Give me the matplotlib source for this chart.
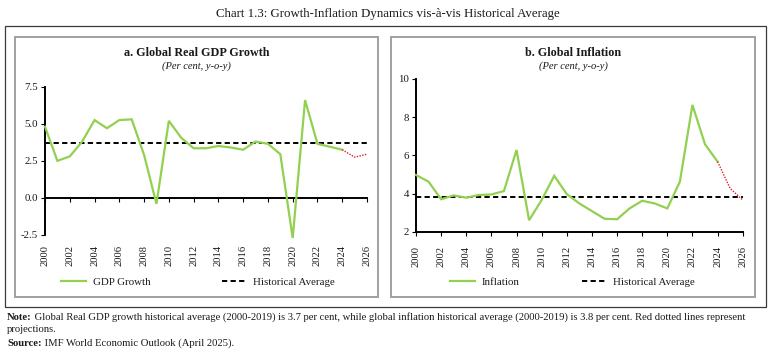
import matplotlib
matplotlib.use('Agg')
import matplotlib.pyplot as plt
from matplotlib.lines import Line2D
from matplotlib.patches import Rectangle

# ---------------- data ----------------
years = list(range(2000, 2027))
gdp_growth = [4.8, 2.5, 2.8, 3.8, 5.25, 4.7, 5.25, 5.3, 2.9, -0.4, 5.2, 4.05,
              3.35, 3.35, 3.5, 3.4, 3.25, 3.8, 3.65, 2.95, -2.7, 6.6, 3.65,
              3.45, 3.25, 2.75, 2.95]
inflation = [4.97, 4.62, 3.7, 3.9, 3.78, 3.92, 3.95, 4.13, 6.28, 2.6, 3.66,
             4.93, 3.97, 3.48, 3.08, 2.68, 2.65, 3.22, 3.62, 3.48, 3.22, 4.62,
             8.64, 6.58, 5.67, 4.27, 3.66]
gdp_avg = 3.7
infl_avg = 3.8
last_actual_year = 2024
year_ticks = list(range(2000, 2027, 2))
gdp_yticks = [-2.5, 0.0, 2.5, 5.0, 7.5]
infl_yticks = [2, 4, 6, 8, 10]

main_title = "Chart 1.3: Growth-Inflation Dynamics vis-à-vis Historical Average"
left_title = "a. Global Real GDP Growth"
right_title = "b. Global Inflation"
subtitle = "(Per cent, y-o-y)"
note_bold = "Note:"
note_rest = (" Global Real GDP growth historical average (2000-2019) is 3.7 per cent, "
             "while global inflation historical average (2000-2019) is 3.8 per cent. "
             "Red dotted lines represent")
note_line2 = "projections."
source_bold = "Source:"
source_rest = " IMF World Economic Outlook (April 2025)."

# ---------------- style ----------------
plt.rcParams['font.family'] = ['Liberation Serif', 'DejaVu Serif']
GREEN = '#92d050'
RED = '#e0202a'
TXT = '#1a1a1a'
W, H = 771, 354

fig = plt.figure(figsize=(W / 100, H / 100), dpi=100)


def fx(px):
    return px / W


def fy(py):
    return 1 - py / H


# frames
fig.add_artist(Rectangle((fx(5), fy(307)), fx(761), 281 / H, transform=fig.transFigure,
                         fill=False, edgecolor='#3a3a3a', lw=0.9))
for x0, x1 in [(15, 378), (391, 755)]:
    fig.add_artist(Rectangle((fx(x0), fy(297)), fx(x1 - x0), 260 / H, transform=fig.transFigure,
                             fill=False, edgecolor='#a0a0a0', lw=1.4))

fig.text(fx(388), fy(14), main_title, ha='center', va='center', fontsize=9.3, color=TXT)

idx = years.index(last_actual_year)
dash_style = (0, (2.7, 1.7))


def split_plot(ax, vals, avg):
    ax.axhline(avg, color='black', lw=1.4, linestyle=dash_style, zorder=2)
    ax.plot(years[:idx + 1], vals[:idx + 1], color=GREEN, lw=1.6, zorder=3,
            solid_joinstyle='miter', clip_on=False)
    ax.plot(years[idx:], vals[idx:], color=RED, lw=1.0, linestyle=(0, (1, 1)), zorder=3,
            clip_on=False)
    ax.set_xlim(years[0], years[-1])


def style_common(ax):
    for s in ['top', 'right']:
        ax.spines[s].set_visible(False)
    ax.spines['left'].set_linewidth(1.4)
    ax.spines['left'].set_color('black')
    ax.tick_params(axis='y', direction='out', length=3, width=0.8, labelsize=7.8,
                   colors=TXT, pad=2)
    ax.tick_params(axis='y', color='black')


# ---------------- left panel ----------------
axL = fig.add_axes([fx(45), fy(235), fx(367 - 45), (235 - 86.7) / H])
split_plot(axL, gdp_growth, gdp_avg)
axL.set_ylim(-2.5, 7.5)
axL.set_yticks(gdp_yticks)
axL.set_yticklabels([f"{v:.1f}" for v in gdp_yticks])
style_common(axL)
axL.spines['bottom'].set_visible(False)
axL.set_xticks(year_ticks)
axL.set_xticklabels([str(y) for y in year_ticks], rotation=90)
axL.tick_params(axis='x', length=0, labelsize=7.6, colors=TXT, pad=7)
zero_loc = (0 - (-2.5)) / (7.5 - (-2.5))
sec = axL.secondary_xaxis(zero_loc)
sec.set_xticks(year_ticks)
sec.xaxis.set_ticks_position('bottom')
sec.spines['bottom'].set_visible(True)
sec.spines['top'].set_visible(False)
sec.spines['bottom'].set_linewidth(1.4)
sec.tick_params(axis='x', direction='out', length=3, width=0.8, labelbottom=False,
                labeltop=False, color='black')

# ---------------- right panel ----------------
axR = fig.add_axes([fx(416), fy(231.7), fx(742.7 - 416), (231.7 - 79) / H])
split_plot(axR, inflation, infl_avg)
axR.set_ylim(2, 10)
axR.set_yticks(infl_yticks)
style_common(axR)
axR.spines['bottom'].set_linewidth(1.4)
axR.spines['bottom'].set_color('black')
axR.set_xticks(year_ticks)
axR.set_xticklabels([str(y) for y in year_ticks], rotation=90)
axR.tick_params(axis='x', direction='out', length=3, width=0.8, labelsize=7.6,
                colors=TXT, pad=7)
axR.tick_params(axis='x', color='black')

# panel titles
for cx, t in [(196.5, left_title), (573, right_title)]:
    fig.text(fx(cx), fy(52.7), t, ha='center', va='center', fontsize=8.7,
             fontweight='bold', color=TXT)
    fig.text(fx(cx), fy(66), subtitle, ha='center', va='center', fontsize=7.6,
             style='italic', color=TXT)

# legends
def make_legend(label, cx, colsp):
    handles = [Line2D([], [], color=GREEN, lw=1.6),
               Line2D([], [], color='black', lw=1.4, linestyle=dash_style)]
    fig.legend(handles, [label, 'Historical Average'], loc='center',
               bbox_to_anchor=(fx(cx), fy(282)), ncol=2, frameon=False,
               fontsize=7.8, handlelength=2.3, handletextpad=0.6,
               columnspacing=colsp, labelcolor=TXT)


make_legend('GDP Growth', 198, 6.6)
make_legend('Inflation', 572.5, 5.8)

# notes
fig.canvas.draw()
renderer = fig.canvas.get_renderer()
NOTE_FS = 7.65


def bold_line(bold, rest, y):
    t = fig.text(fx(7), fy(y), bold, ha='left', va='center', fontsize=NOTE_FS,
                 fontweight='bold', color=TXT)
    bb = t.get_window_extent(renderer=renderer)
    fig.text(bb.x1 / W, fy(y), rest, ha='left', va='center', fontsize=NOTE_FS, color=TXT)


bold_line(note_bold, note_rest, 317)
fig.text(fx(7), fy(329), note_line2, ha='left', va='center', fontsize=NOTE_FS, color=TXT)
bold_line(source_bold, source_rest, 343)

fig.savefig('out.png', dpi=100)
